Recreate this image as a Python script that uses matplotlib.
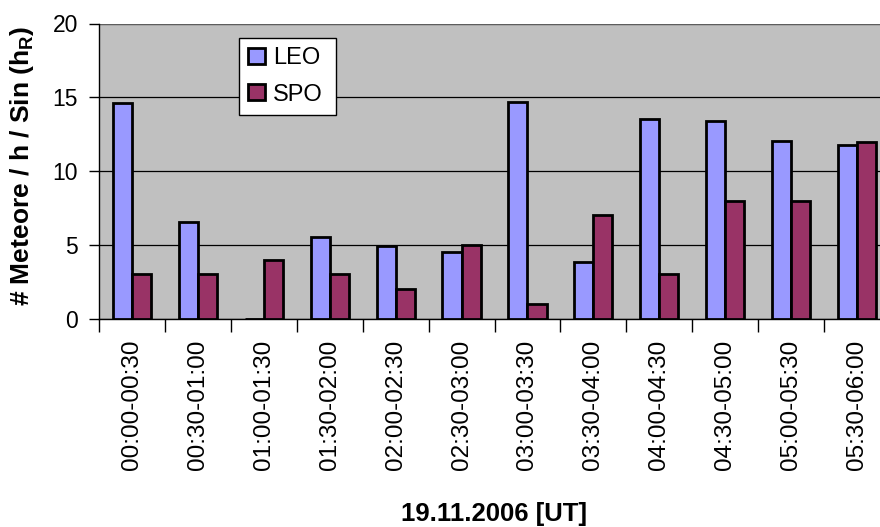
import numpy as np
import matplotlib
matplotlib.use('Agg')
import matplotlib.pyplot as plt

plt.rcParams['font.family'] = ['Liberation Sans', 'DejaVu Sans']

# meteor rates per half-hour interval
intervals = ['00:00-00:30', '00:30-01:00', '01:00-01:30', '01:30-02:00',
             '02:00-02:30', '02:30-03:00', '03:00-03:30', '03:30-04:00',
             '04:00-04:30', '04:30-05:00', '05:00-05:30', '05:30-06:00']
leo = [14.6, 6.55, 0.0, 5.5, 4.9, 4.5, 14.7, 3.8, 13.55, 13.4, 12.05, 11.75]
spo = [3, 3, 4, 3, 2, 5, 1, 7, 3, 8, 8, 12]

W, H = 880, 527
fig = plt.figure(figsize=(W / 100, H / 100), dpi=100)
ax = fig.add_axes([99 / W, (H - 318.5) / H, 791 / W, 295 / H])
ax.set_facecolor('#C0C0C0')

x = np.arange(len(intervals))
w = 0.29
ax.bar(x - w / 2, leo, w, color='#9999FF', edgecolor='black', linewidth=2,
       label='LEO', zorder=3)
ax.bar(x + w / 2, spo, w, color='#993366', edgecolor='black', linewidth=2,
       label='SPO', zorder=3)

ax.set_xlim(-0.5, len(intervals) - 0.5)
ax.set_ylim(0, 20)
ax.set_yticks([0, 5, 10, 15, 20])
ax.yaxis.grid(True, color='black', linewidth=0.9, zorder=1)
ax.set_axisbelow(True)

# category labels centred, tick marks at the category borders
ax.set_xticks(x)
ax.set_xticklabels(intervals, rotation=90, fontsize=17.5)
ax.tick_params(axis='x', which='major', length=0, pad=15)
ax.set_xticks(np.arange(len(intervals) + 1) - 0.5, minor=True)
ax.tick_params(axis='x', which='minor', length=9, width=1, direction='out')
ax.tick_params(axis='y', labelsize=16.5, length=7, width=1, direction='out',
               pad=8)

for side in ['top', 'right']:
    ax.spines[side].set_visible(False)
ax.spines['left'].set_linewidth(1)
ax.spines['bottom'].set_linewidth(1)
ax.axhline(20, color='#707070', linewidth=1.2, zorder=1)

fig.text(22.5 / W, 1 - 165.5 / H, '# Meteore / h / Sin (h$_\\mathregular{R}$)',
         fontsize=19, fontweight='bold', rotation=90, ha='center', va='center')
fig.text(494 / W, 1 - 514 / H, '19.11.2006 [UT]', fontsize=18.5,
         fontweight='bold', ha='center', va='center')

leg = ax.legend(loc='upper left', mode='expand',
                bbox_to_anchor=(140 / 791, (318.5 - 38) / 295 - 0.3,
                                97 / 791, 0.3),
                fontsize=17, frameon=True, fancybox=False, borderpad=0.4,
                handlelength=0.68, handleheight=0.68, handletextpad=0.35,
                labelspacing=0.6, borderaxespad=0)
leg.get_frame().set_edgecolor('black')
leg.get_frame().set_linewidth(1)
leg.get_frame().set_facecolor('white')
leg.get_frame().set_alpha(1)

fig.savefig('out.png', dpi=100)
